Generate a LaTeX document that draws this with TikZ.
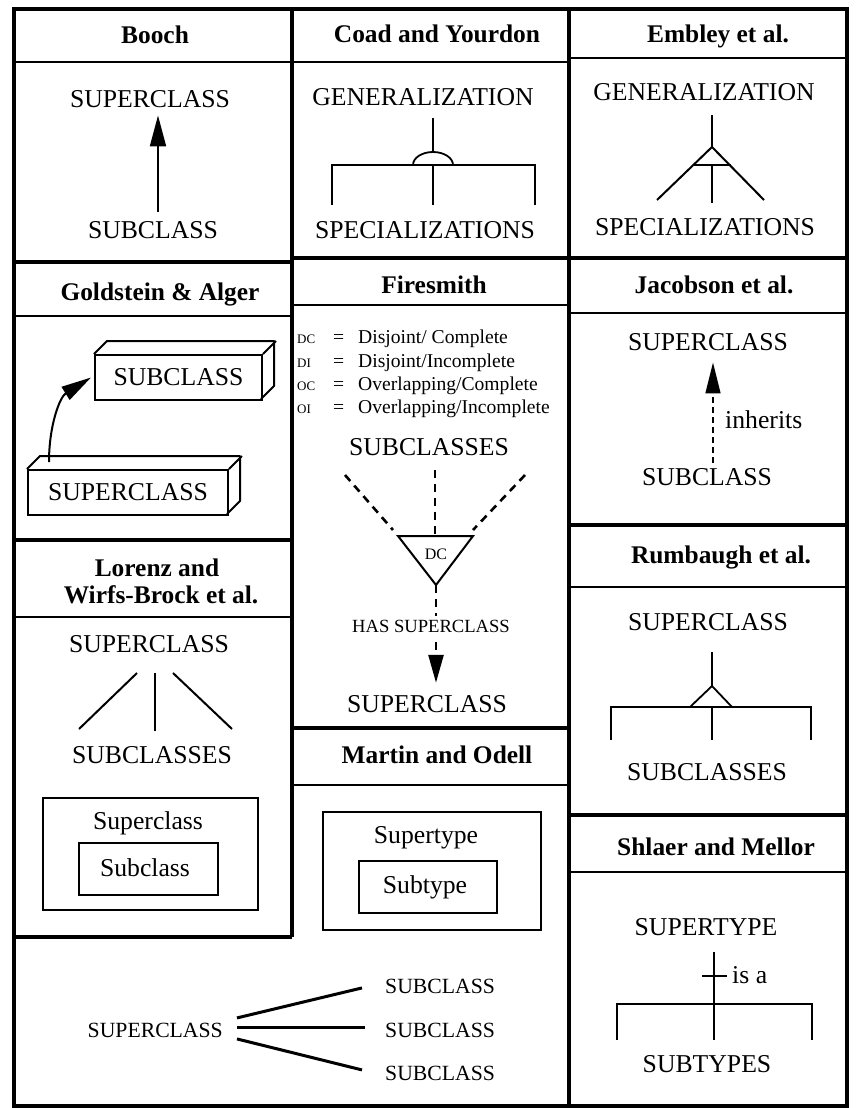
\documentclass[tikz,border=0pt]{standalone}
\usepackage{fontspec}
\setmainfont{Liberation Serif}
\usetikzlibrary{arrows.meta,calc}
\newcommand\lgabbr[1]{\makebox[36pt][l]{\fontsize{13}{14}\selectfont #1}}
\newcommand\lgeq{\makebox[25pt][l]{=}}
\tikzset{
  frame/.style={line width=3.5pt},
  sep/.style={line width=2.5pt},
  glyph/.style={line width=2pt},
  thinglyph/.style={line width=1.8pt},
  boxline/.style={line width=2pt},
  body/.style={font=\fontsize{25.7}{30}\selectfont, inner sep=0pt, anchor=base},
  ttl/.style={font=\bfseries\fontsize{25.4}{28}\selectfont, inner sep=0pt, anchor=base},
  legend/.style={font=\fontsize{19.6}{22}\selectfont, inner sep=0pt, anchor=base west},
  smalltxt/.style={font=\fontsize{18.6}{21}\selectfont, inner sep=0pt, anchor=base},
  tritxt/.style={font=\fontsize{16}{18}\selectfont, inner sep=0pt, anchor=base},
  btxt/.style={font=\fontsize{21.7}{25}\selectfont, inner sep=0pt},
  box3d/.style={draw, line width=2pt, inner sep=0pt, font=\fontsize{25.7}{30}\selectfont},
  fsdash/.style={line width=2.6pt, dash pattern=on 8pt off 6pt},
  jdash/.style={line width=1.6pt, dash pattern=on 6pt off 4pt},
  bigtip/.style={-{Triangle[width=16pt,length=31pt]}},
}
\begin{document}
\begin{tikzpicture}[x=1pt,y=-1pt]
\useasboundingbox (0,0) rectangle (855,1108);

% ---------- grid ----------
\draw[frame] (14,9) rectangle (847,1106);
\draw[frame] (292,9) -- (292,937);
\draw[frame] (569,9) -- (569,1106);
% column 1
\draw[sep] (14,62) -- (292,62);
\draw[frame] (14,262) -- (292,262);
\draw[sep] (14,316) -- (292,316);
\draw[frame] (14,540) -- (292,540);
\draw[sep] (14,617) -- (292,617);
\draw[frame] (14,937) -- (292,937);
% column 2
\draw[sep] (292,62) -- (569,62);
\draw[frame] (292,258) -- (569,258);
\draw[sep] (292,305) -- (569,305);
\draw[frame] (292,728) -- (569,728);
\draw[sep] (292,785) -- (569,785);
% column 3
\draw[sep] (569,58) -- (847,58);
\draw[frame] (569,258) -- (847,258);
\draw[sep] (569,313) -- (847,313);
\draw[frame] (569,525) -- (847,525);
\draw[sep] (569,587) -- (847,587);
\draw[frame] (569,815) -- (847,815);
\draw[sep] (569,872) -- (847,872);

% ---------- titles ----------
\node[ttl] (tbooch) at (155,44) {Booch};
\node[ttl] (tcoad) at (437,43) {Coad and Yourdon};
\node[ttl] (tembley) at (718,43) {Embley et al.};
\node[ttl] (tgold) at (160,300) {Goldstein \& Alger};
\node[ttl] (tfire) at (434,293) {Firesmith};
\node[ttl] (tjac) at (714,293) {Jacobson et al.};
\node[ttl] (tlorA) at (157,576) {Lorenz and};
\node[ttl] (tlorB) at (161,603) {Wirfs-Brock et al.};
\node[ttl] (trum) at (721,563) {Rumbaugh et al.};
\node[ttl] (tmart) at (437,763) {Martin and Odell};
\node[ttl] (tshl) at (716,855) {Shlaer and Mellor};

% ---------- Booch ----------
\node[body] (bsup) at (150,107) {SUPERCLASS};
\node[body] (bsub) at (153,238) {SUBCLASS};
\draw[glyph, bigtip] ([xshift=5pt,yshift=9pt]bsub.north) -- ([xshift=8pt,yshift=-8pt]bsup.south);

% ---------- Coad and Yourdon ----------
\node[body] (cgen) at (423,105) {GENERALIZATION};
\node[body] (cspec) at (425,238) {SPECIALIZATIONS};
\coordinate (cTop) at (433,118);
\coordinate (cDome) at (433,152);
\coordinate (cL) at (332,165);
\coordinate (cM) at (433,165);
\coordinate (cR) at (535,165);
\draw[thinglyph] (cTop) -- (cDome);
\draw[thinglyph] (413,165) arc[start angle=180, end angle=0, x radius=20pt, y radius=13pt];
\draw[thinglyph] ([yshift=-40pt]cL) -- (cL) -- (cR) -- ([yshift=-40pt]cR);
\draw[thinglyph] (cM) -- ([yshift=-40pt]cM);

% ---------- Embley ----------
\node[body] (egen) at (704,100) {GENERALIZATION};
\node[body] (espec) at (705,235) {SPECIALIZATIONS};
\coordinate (eTop) at (712,115);
\coordinate (eApex) at (712,147);
\coordinate (eBL) at (657,200);
\coordinate (eBR) at (764,200);
\coordinate (eBar) at (712,165);
\draw[glyph] (eTop) -- (eApex);
\draw[glyph] (eBL) -- (eApex) -- (eBR);
\draw[thinglyph] (693,165) -- (731,165);
\draw[thinglyph] (eBar) -- (712,203);

% ---------- Goldstein & Alger ----------
\node[box3d, minimum width=167pt, minimum height=45pt] (gsub) at (178.5,377.5) {SUBCLASS};
\draw[line width=2pt, line join=round] (gsub.north west) -- ++(13,-13) -- ++(167,0) -- ++(0,45) -- ++(-13,13);
\draw[line width=2pt] (gsub.north east) -- ++(13,-13);
\node[box3d, minimum width=200pt, minimum height=45pt] (gsup) at (128,492.5) {SUPERCLASS};
\draw[line width=2pt, line join=round] (gsup.north west) -- ++(13,-13) -- ++(200,0) -- ++(0,45) -- ++(-13,13);
\draw[line width=2pt] (gsup.north east) -- ++(13,-13);
\draw[glyph, -{Triangle[width=15pt,length=30pt]}] ([xshift=22pt,yshift=7pt]gsup.north west) to[out=90,in=212] ([xshift=-3pt]gsub.west);

% ---------- Lorenz / Wirfs-Brock ----------
\node[body] (lsup) at (149,652) {SUPERCLASS};
\node[body] (lsubs) at (152,763) {SUBCLASSES};
\draw[glyph] (137,673) -- (79,729);
\draw[glyph] (155,673) -- (155,731);
\draw[glyph] (173,673) -- (232,729);
\draw[boxline] (43,798) rectangle (258,910);
\node[body] (lsupc) at (148,829) {Superclass};
\draw[boxline] (79,843) rectangle (218,895);
\node[body] (lsubc) at (145,876) {Subclass};

% ---------- Firesmith ----------
\node[legend] (lg1) at (297,343) {\lgabbr{DC}\lgeq Disjoint/ Complete};
\node[legend] (lg2) at (297,367) {\lgabbr{DI}\lgeq Disjoint/Incomplete};
\node[legend] (lg3) at (297,390) {\lgabbr{OC}\lgeq Overlapping/Complete};
\node[legend] (lg4) at (297,413) {\lgabbr{OI}\lgeq Overlapping/Incomplete};
\node[body] (fsubs) at (429,455) {SUBCLASSES};
\draw[fsdash] (345,475) -- (393,530);
\draw[fsdash] (435,470) -- (435,537);
\draw[fsdash] (525,475) -- (473,530);
\coordinate (ftL) at (398,536);
\coordinate (ftR) at (473,536);
\coordinate (ftB) at (436,585);
\draw[glyph, line join=miter] (ftL) -- (ftR) -- (ftB) -- cycle;
\node[tritxt] (fdc) at (436,559) {DC};
\node[smalltxt] (fhas) at (431,632) {HAS SUPERCLASS};
\node[body] (fsup) at (427,712) {SUPERCLASS};
\draw[fsdash] (ftB) -- ($(ftB |- fhas.north)+(0,-3)$);
\draw[fsdash, -{Triangle[width=15pt,length=28pt]}] ($(ftB |- fhas.south)+(0,10)$) -- ($(ftB |- fsup.north)+(0,-12)$);

% ---------- Jacobson ----------
\node[body] (jsup) at (708,350) {SUPERCLASS};
\node[body] (jsub) at (707,485) {SUBCLASS};
\draw[jdash, -{Triangle[width=15pt,length=31pt]}] ($(jsub.north)+(6,-5)$) -- ($(jsup.south)+(5,12)$);
\node[body, anchor=base west] (jinh) at (725,428) {inherits};

% ---------- Rumbaugh ----------
\node[body] (rsup) at (708,630) {SUPERCLASS};
\node[body] (rsubs) at (707,780) {SUBCLASSES};
\coordinate (rTop) at (712,652);
\coordinate (rApex) at (712,686);
\draw[thinglyph] (rTop) -- (rApex);
\draw[thinglyph] (690,707) -- (rApex) -- (732,707);
\draw[thinglyph] (611,740) -- (611,707) -- (811,707) -- (811,740);
\draw[thinglyph] (712,707) -- (712,740);

% ---------- Martin and Odell ----------
\draw[boxline] (323,812) rectangle (541,930);
\node[body] (msupt) at (426,843) {Supertype};
\draw[boxline] (359,861) rectangle (497,913);
\node[body] (msubt) at (425,893) {Subtype};

\node[btxt, anchor=base east] (mSup) at (223,1037) {SUPERCLASS};
\node[btxt, anchor=base west] (mSubA) at (385,993) {SUBCLASS};
\node[btxt, anchor=base west] (mSubB) at (385,1037) {SUBCLASS};
\node[btxt, anchor=base west] (mSubC) at (385,1080) {SUBCLASS};
\draw[line width=3pt] ([xshift=14pt,yshift=12pt]mSup.east) -- ([xshift=-23pt,yshift=-2pt]mSubA.west);
\draw[line width=3pt] ([xshift=14pt,yshift=2pt]mSup.east) -- ([xshift=-20pt,yshift=2pt]mSubB.west);
\draw[line width=3pt] ([xshift=14pt,yshift=-9pt]mSup.east) -- ([xshift=-23pt,yshift=3pt]mSubC.west);

% ---------- Shlaer and Mellor ----------
\node[body] (ssup) at (706,935) {SUPERTYPE};
\node[body] (ssub) at (707,1072) {SUBTYPES};
\coordinate (sTop) at (714,952);
\coordinate (sBot) at (714,1040);
\draw[glyph] (sTop) -- (sBot);
\draw[glyph] (702,976) -- (727,976);
\node[body, anchor=base west] (sisa) at (732,983) {is a};
\draw[glyph] (617,1040) -- (617,1004) -- (812,1004) -- (812,1040);
\end{tikzpicture}
\end{document}
